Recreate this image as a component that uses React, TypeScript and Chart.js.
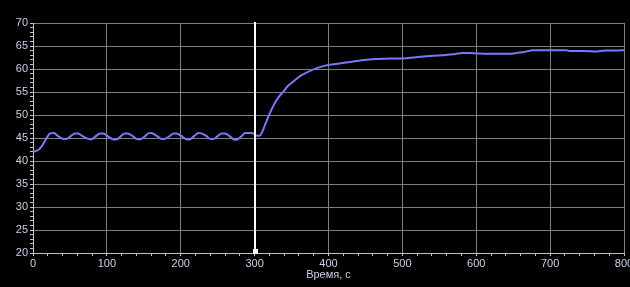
import React, { useEffect, useRef } from 'react';
import { Chart, registerables } from 'chart.js';

Chart.register(...registerables);

const timeSec = [
  0, 6, 11, 16, 20, 23, 28, 34, 41, 45, 51, 57, 61, 67, 75, 79, 85, 91, 95, 102, 109, 113,
  119, 124, 128, 135, 140, 145, 151, 156, 160, 168, 174, 178, 185, 190, 194, 202, 208, 212,
  218, 224, 228, 235, 240, 244, 250, 255, 260, 267, 273, 277, 283, 287, 296, 300, 303, 307,
  311, 314, 320, 327, 333, 339, 345, 352, 361, 370, 384, 400, 415, 429, 445, 465,
  485, 501, 515, 528, 542, 555, 568, 582, 592, 596, 612, 632, 645, 655, 665, 677, 690, 705,
  722, 727, 745, 763, 775, 790, 800,
];
const temperature = [
  42.0, 42.3, 43.0, 44.3, 45.4, 46.0, 46.1, 45.4, 44.8, 44.8, 45.4, 46.0, 46.0, 45.4, 44.8,
  44.7, 45.4, 46.0, 46.0, 45.3, 44.7, 44.7, 45.4, 46.0, 46.0, 45.4, 44.8, 44.7, 45.3, 46.0,
  46.1, 45.4, 44.8, 44.8, 45.4, 46.0, 46.0, 45.3, 44.7, 44.7, 45.4, 46.1, 46.0, 45.4, 44.8,
  44.8, 45.4, 46.0, 46.0, 45.3, 44.6, 44.7, 45.5, 46.1, 46.1, 45.8, 45.5, 45.5,
  46.6, 47.8, 50.2, 52.5, 54.0, 55.1, 56.3, 57.2, 58.4, 59.2, 60.2, 60.9, 61.2, 61.5, 61.9,
  62.2, 62.3, 62.3, 62.5, 62.7, 62.9, 63.0, 63.2, 63.5, 63.5, 63.4, 63.3, 63.3, 63.3, 63.5,
  63.7, 64.1, 64.1, 64.1, 64.1, 63.9, 63.9, 63.8, 64.0, 64.0, 64.1,
];
const xTickLabels = [0, 100, 200, 300, 400, 500, 600, 700, 800];
const yTickLabels = [20, 25, 30, 35, 40, 45, 50, 55, 60, 65, 70];
const xMinorStep = 20;
const yMinorStep = 1;
const cursorTime = 300;
const xAxisTitle = 'Время, с';

const labelColor = '#c8d2e6';
const gridColor = '#7f7f7f';
const axisColor = '#c4c4c4';
const lineColor = '#7878fc';
const fontFamily = '"Liberation Sans", Arial, sans-serif';

export default function App() {
  const ref = useRef<HTMLCanvasElement>(null);

  useEffect(() => {
    document.body.style.margin = '0';
    document.body.style.background = '#000';
    const cursorPlugin = {
      id: 'cursorLine',
      afterDatasetsDraw(chart: any) {
        const { ctx, chartArea, scales } = chart;
        const x = Math.round(scales.x.getPixelForValue(cursorTime));
        ctx.save();
        ctx.fillStyle = '#ffffff';
        ctx.fillRect(x - 1, chartArea.top - 1, 2, chartArea.bottom - chartArea.top + 1);
        ctx.fillRect(x - 2, chartArea.bottom - 4, 5, 5);
        ctx.restore();
      },
    };

    const buildTicks = (min: number, max: number, step: number) => {
      const out: { value: number }[] = [];
      for (let v = min; v <= max + 1e-9; v += step) out.push({ value: v });
      return out;
    };

    const chart = new Chart(ref.current as HTMLCanvasElement, {
      type: 'line',
      data: {
        datasets: [
          {
            data: timeSec.map((t, i) => ({ x: t, y: temperature[i] })),
            borderColor: lineColor,
            borderWidth: 2,
            pointRadius: 0,
            cubicInterpolationMode: 'monotone',
            fill: false,
          },
        ],
      },
      options: {
        animation: false,
        responsive: false,
        events: [],
        layout: { padding: { top: 23, right: 6, left: 0, bottom: 0 } },
        plugins: { legend: { display: false }, tooltip: { enabled: false } },
        scales: {
          x: {
            type: 'linear',
            min: xTickLabels[0],
            max: xTickLabels[xTickLabels.length - 1],
            afterBuildTicks(s: any) {
              s.ticks = buildTicks(s.min, s.max, xMinorStep);
            },
            afterFit(s: any) {
              s.height = 34;
              s.paddingLeft = 0;
              s.paddingRight = 0;
            },
            ticks: {
              autoSkip: false,
              maxRotation: 0,
              color: labelColor,
              padding: 1,
              font: { family: fontFamily, size: 11 },
              callback: (v: any) => (xTickLabels.includes(Number(v)) ? String(v) : ''),
            },
            grid: {
              color: (c: any) => (xTickLabels.includes(c.tick?.value) ? gridColor : 'rgba(0,0,0,0)'),
              tickColor: axisColor,
              tickLength: 3,
            },
            border: { color: axisColor },
            title: {
              display: true,
              text: xAxisTitle,
              color: labelColor,
              font: { family: fontFamily, size: 11 },
              padding: { top: 0, bottom: 5 },
            },
          },
          y: {
            type: 'linear',
            min: yTickLabels[0],
            max: yTickLabels[yTickLabels.length - 1],
            afterBuildTicks(s: any) {
              s.ticks = buildTicks(s.min, s.max, yMinorStep);
            },
            afterFit(s: any) {
              s.width = 33;
              s.paddingTop = 0;
              s.paddingBottom = 0;
            },
            ticks: {
              autoSkip: false,
              color: labelColor,
              padding: 2,
              font: { family: fontFamily, size: 11 },
              callback: (v: any) => (yTickLabels.includes(Number(v)) ? String(v) : ''),
            },
            grid: {
              color: (c: any) => (yTickLabels.includes(c.tick?.value) ? gridColor : 'rgba(0,0,0,0)'),
              tickColor: axisColor,
              tickLength: 3,
            },
            border: { color: axisColor },
          },
        },
      },
      plugins: [cursorPlugin],
    } as any);
    return () => chart.destroy();
  }, []);

  return (
    <div style={{ position: 'fixed', left: 0, top: 0, width: 630, height: 287, background: '#000' }}>
      <canvas ref={ref} width={630} height={287} style={{ display: 'block' }} />
    </div>
  );
}
